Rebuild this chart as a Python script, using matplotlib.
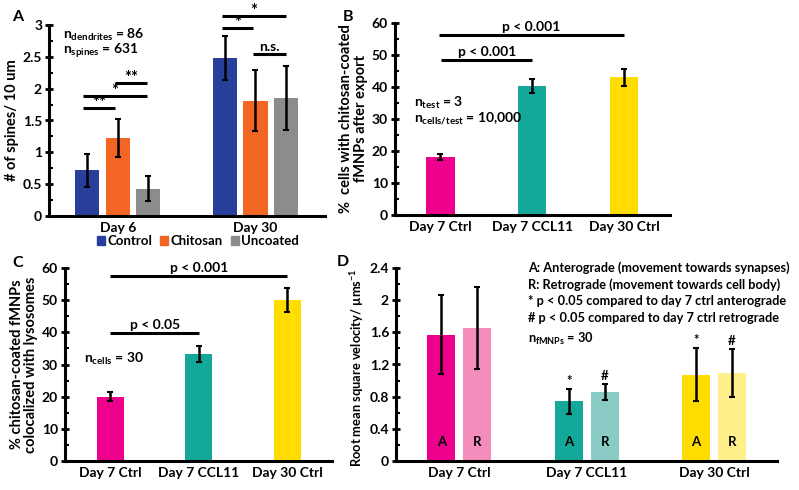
import numpy as np
import matplotlib
matplotlib.use('Agg')
import matplotlib.pyplot as plt
from matplotlib.ticker import MultipleLocator, FormatStrFormatter
from matplotlib.patches import Patch

plt.rcParams['font.family'] = ['Lato', 'DejaVu Sans']
plt.rcParams['font.weight'] = 'bold'
plt.rcParams['mathtext.default'] = 'regular'
plt.rcParams['axes.linewidth'] = 2.2

# ---- data ----
# panel A: spines per 10 um
a_days = ['Day 6', 'Day 30']
a_groups = ['Control', 'Chitosan', 'Uncoated']
a_means = [[0.72, 1.22, 0.43], [2.48, 1.81, 1.85]]
a_errs = [[0.26, 0.30, 0.20], [0.35, 0.48, 0.50]]
a_colors = ['#283f9b', '#f26522', '#8c8c8c']

# panel B: % cells with chitosan-coated fMNPs after export
b_cats = ['Day 7 Ctrl', 'Day 7 CCL11', 'Day 30 Ctrl']
b_means = [18.1, 40.3, 43.0]
b_errs = [0.9, 2.2, 2.6]

# panel C: % colocalized with lysosomes
c_cats = ['Day 7 Ctrl', 'Day 7 CCL11', 'Day 30 Ctrl']
c_means = [20.0, 33.3, 50.0]
c_errs = [1.5, 2.6, 3.7]

# panel D: RMS velocity, anterograde / retrograde
d_cats = ['Day 7 Ctrl', 'Day 7 CCL11', 'Day 30 Ctrl']
d_antero = [1.57, 0.74, 1.07]
d_antero_err = [0.49, 0.15, 0.33]
d_retro = [1.65, 0.86, 1.09]
d_retro_err = [0.51, 0.10, 0.30]
d_antero_mark = ['', '*', '*']
d_retro_mark = ['', '#', '#']

cond_colors = ['#ec008c', '#14a89a', '#ffdd00']
cond_light = ['#f48cbc', '#8accc5', '#fff08c']

fig = plt.figure(figsize=(7.99, 4.90), dpi=100)

def fx(px):
    return px / 799

def fy(py):
    return 1 - py / 490

def style_axis(ax, major, minor):
    for s in ['top', 'right']:
        ax.spines[s].set_visible(False)
    ax.yaxis.set_major_locator(MultipleLocator(major))
    ax.yaxis.set_minor_locator(MultipleLocator(minor))
    ax.yaxis.set_major_formatter(FormatStrFormatter('%g'))
    ax.tick_params(axis='y', which='major', direction='inout', length=6, width=2, labelsize=10, pad=2)
    ax.tick_params(axis='y', which='minor', direction='in', length=3, width=1.5)
    ax.tick_params(axis='x', length=0, labelsize=10, pad=4)
    for lab in ax.get_xticklabels() + ax.get_yticklabels():
        lab.set_fontweight('bold')

def bracket(ax, x0, x1, y, txt, dy, size=10):
    ax.plot([x0, x1], [y, y], color='black', lw=2.2, clip_on=False, solid_capstyle='butt')
    ax.text((x0 + x1) / 2, y + dy, txt, ha='center', va='bottom', fontsize=size, fontweight='bold')

ekw = dict(ecolor='black', elinewidth=1.8, capsize=2, capthick=1.5)

# ---- panel A ----
axA = fig.add_axes([fx(49), fy(216), fx(276), 191 / 490])
off = 0.222
w = 0.175
centers = np.arange(len(a_days))
for k, (name, col) in enumerate(zip(a_groups, a_colors)):
    xs = centers + (k - 1) * off
    axA.bar(xs, [m[k] for m in a_means], w, color=col, label=name,
            yerr=[e[k] for e in a_errs], error_kw=ekw)
axA.set_xlim(-0.5, 1.505)
axA.set_ylim(0, 3)
axA.set_xticks(centers)
axA.set_xticklabels(a_days)
axA.set_ylabel('# of spines/ 10 um', fontsize=10.5, fontweight='bold')
axA.yaxis.set_label_coords(-0.108, 0.5)
style_axis(axA, 0.5, 0.25)
pos = lambda g, k: centers[g] + (k - 1) * off
bracket(axA, pos(0, 0) - 0.03, pos(0, 1) - 0.02, 1.70, '**', -0.05, 12)
bracket(axA, pos(0, 0) - 0.03, pos(0, 2) - 0.01, 1.88, '*', -0.05, 12)
bracket(axA, pos(0, 1) - 0.02, pos(0, 2) - 0.01, 2.09, '**', -0.05, 12)
bracket(axA, pos(1, 0) - 0.02, pos(1, 2), 3.14, '*', -0.05, 12)
bracket(axA, pos(1, 0) - 0.02, pos(1, 1) - 0.02, 2.95, '*', -0.05, 12)
bracket(axA, pos(1, 1) - 0.02, pos(1, 2), 2.54, 'n.s.', 0.02)
axA.text(0.05, 0.95, r'n$_{\mathregular{dendrites}}$ = 86', transform=axA.transAxes,
         fontsize=10, fontweight='bold', va='center')
axA.text(0.05, 0.868, r'n$_{\mathregular{spines}}$ = 631', transform=axA.transAxes,
         fontsize=10, fontweight='bold', va='center')
handles = [Patch(color=c, label=n) for n, c in zip(a_groups, a_colors)]
fig.legend(handles=handles, loc='center', bbox_to_anchor=(fx(198), fy(241)), ncol=3,
           frameon=False, handlelength=0.6, handleheight=0.6, handletextpad=0.2,
           columnspacing=0.6, borderpad=0, prop={'weight': 'bold', 'size': 9.5})

# ---- panel B ----
axB = fig.add_axes([fx(395), fy(215), fx(275), 192 / 490])
xb = np.arange(len(b_cats))
axB.bar(xb, b_means, 0.31, color=cond_colors, yerr=b_errs, error_kw=ekw)
axB.set_xlim(-0.496, 2.503)
axB.set_ylim(0, 60)
axB.set_xticks(xb)
axB.set_xticklabels(b_cats)
axB.set_ylabel('%  cells with chitosan-coated\nfMNPs after export', fontsize=10.5,
               fontweight='bold', linespacing=1.0)
axB.yaxis.set_label_coords(-0.1, 0.5)
style_axis(axB, 10, 5)
bracket(axB, xb[0] + 0.01, xb[1], 48.4, 'p < 0.001', 0.6)
bracket(axB, xb[0] - 0.02, xb[2], 56.2, 'p < 0.001', 0.6)
axB.text(0.07, 0.585, r'n$_{\mathregular{test}}$ = 3', transform=axB.transAxes,
         fontsize=10, fontweight='bold', va='center')
axB.text(0.07, 0.50, r'n$_{\mathregular{cells/test}}$ = 10,000', transform=axB.transAxes,
         fontsize=10, fontweight='bold', va='center')

# ---- panel C ----
axC = fig.add_axes([fx(65), fy(461), fx(267), 193 / 490])
xc = np.arange(len(c_cats))
axC.bar(xc, c_means, 0.306, color=cond_colors, yerr=c_errs, error_kw=ekw)
axC.set_xlim(-0.515, 2.508)
axC.set_ylim(0, 60)
axC.set_xticks(xc)
axC.set_xticklabels(c_cats)
axC.set_ylabel('% chitosan-coated fMNPs\ncolocalized with lysosomes', fontsize=10.5,
               fontweight='bold', linespacing=1.0)
axC.yaxis.set_label_coords(-0.1, 0.5)
style_axis(axC, 10, 5)
bracket(axC, xc[0], xc[1], 39.8, 'p < 0.05', 0.6)
bracket(axC, xc[0], xc[2], 57.5, 'p < 0.001', 0.6)
axC.text(0.07, 0.53, r'n$_{\mathregular{cells}}$ = 30', transform=axC.transAxes,
         fontsize=10, fontweight='bold', va='center')

# ---- panel D ----
axD = fig.add_axes([fx(396), fy(461), fx(381), 193 / 490])
xd = np.arange(len(d_cats))
doff = 0.141
dw = 0.22
axD.bar(xd - doff, d_antero, dw, color=cond_colors, yerr=d_antero_err, error_kw=ekw)
axD.bar(xd + doff, d_retro, dw, color=cond_light, yerr=d_retro_err, error_kw=ekw)
for i in range(len(d_cats)):
    axD.text(xd[i] - doff, 0.24, 'A', ha='center', va='center', fontsize=9.5, fontweight='bold')
    axD.text(xd[i] + doff, 0.24, 'R', ha='center', va='center', fontsize=9.5, fontweight='bold')
    if d_antero_mark[i]:
        axD.text(xd[i] - doff, d_antero[i] + d_antero_err[i] + 0.1, d_antero_mark[i],
                 ha='center', va='center', fontsize=9.5, fontweight='bold')
    if d_retro_mark[i]:
        axD.text(xd[i] + doff, d_retro[i] + d_retro_err[i] + 0.1, d_retro_mark[i],
                 ha='center', va='center', fontsize=9.5, fontweight='bold')
axD.set_xlim(-0.497, 2.494)
axD.set_ylim(0, 2.4)
axD.set_xticks(xd)
axD.set_xticklabels(d_cats)
axD.set_ylabel('Root mean square velocity/ µms$^{-1}$', fontsize=9.3, fontweight='bold')
axD.yaxis.set_label_coords(-0.08, 0.485)
style_axis(axD, 0.4, 0.2)
notes = ['A: Anterograde (movement towards synapses)',
         'R: Retrograde (movement towards cell body)',
         '* p < 0.05 compared to day 7 ctrl anterograde',
         '# p < 0.05 compared to day 7 ctrl retrograde']
for i, t in enumerate(notes):
    fig.text(fx(528), fy(268 + 16.5 * i), t, fontsize=9.2, fontweight='bold', va='center')
fig.text(fx(528), fy(339), r'n$_{\mathregular{fMNPs}}$ = 30', fontsize=9.2, fontweight='bold', va='center')

# panel letters
for lab, x, y in [('A', 12, 17), ('B', 343, 17), ('C', 12, 263), ('D', 337, 262)]:
    fig.text(fx(x), fy(y), lab, fontsize=11.5, fontweight='bold', va='center')

fig.savefig('out.png', dpi=100)
